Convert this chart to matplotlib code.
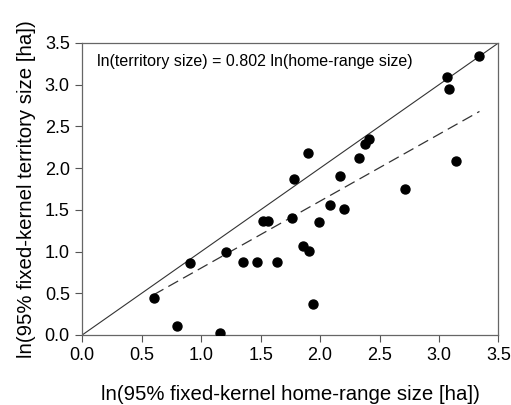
import numpy as np
import matplotlib.pyplot as plt

plt.rcParams['font.family'] = ['Liberation Sans', 'DejaVu Sans']

# ln(95% fixed-kernel home-range size [ha])
home_range = [0.60, 0.80, 0.91, 1.16, 1.21, 1.35, 1.47, 1.52, 1.56, 1.64,
              1.76, 1.78, 1.86, 1.90, 1.91, 1.94, 1.99, 2.08, 2.17, 2.20,
              2.33, 2.38, 2.41, 2.71, 3.07, 3.08, 3.14, 3.34]
# ln(95% fixed-kernel territory size [ha])
territory = [0.44, 0.11, 0.86, 0.02, 1.00, 0.88, 0.88, 1.37, 1.37, 0.88,
             1.40, 1.87, 1.06, 2.18, 1.01, 0.37, 1.35, 1.56, 1.90, 1.51,
             2.12, 2.29, 2.35, 1.75, 3.09, 2.95, 2.08, 3.34]
slope = 0.802
ticks = [0.0, 0.5, 1.0, 1.5, 2.0, 2.5, 3.0, 3.5]

fig = plt.figure(figsize=(5.11, 4.05), dpi=100)
ax = fig.add_axes([0.161, 0.173, 0.8145, 0.721])

ax.plot([0, 3.5], [0, 3.5], color='#333333', lw=0.8)
xfit = np.array([min(home_range), max(home_range)])
ax.plot(xfit, slope * xfit, color='#333333', lw=0.9, dashes=(9, 4.5))
ax.scatter(home_range, territory, s=42, color='black', zorder=3)

ax.set_xlim(0, 3.5)
ax.set_ylim(0, 3.5)
ax.set_xticks(ticks)
ax.set_yticks(ticks)
ax.set_xticklabels([f'{t:.1f}' for t in ticks])
ax.set_yticklabels([f'{t:.1f}' for t in ticks])
ax.tick_params(direction='out', length=5, width=0.8, labelsize=13,
               color='#555555', pad=4)
for sp in ax.spines.values():
    sp.set_color('#666666')
    sp.set_linewidth(0.9)

ax.text(0.12, 3.28, 'ln(territory size) = 0.802 ln(home-range size)',
        fontsize=11.5, va='center', ha='left')

ax.set_xlabel('ln(95% fixed-kernel home-range size [ha])', fontsize=14.7,
              labelpad=15)
ax.set_ylabel('ln(95% fixed-kernel territory size [ha])', fontsize=14.7,
              labelpad=6)

plt.savefig('out.png', dpi=100)
plt.close()
